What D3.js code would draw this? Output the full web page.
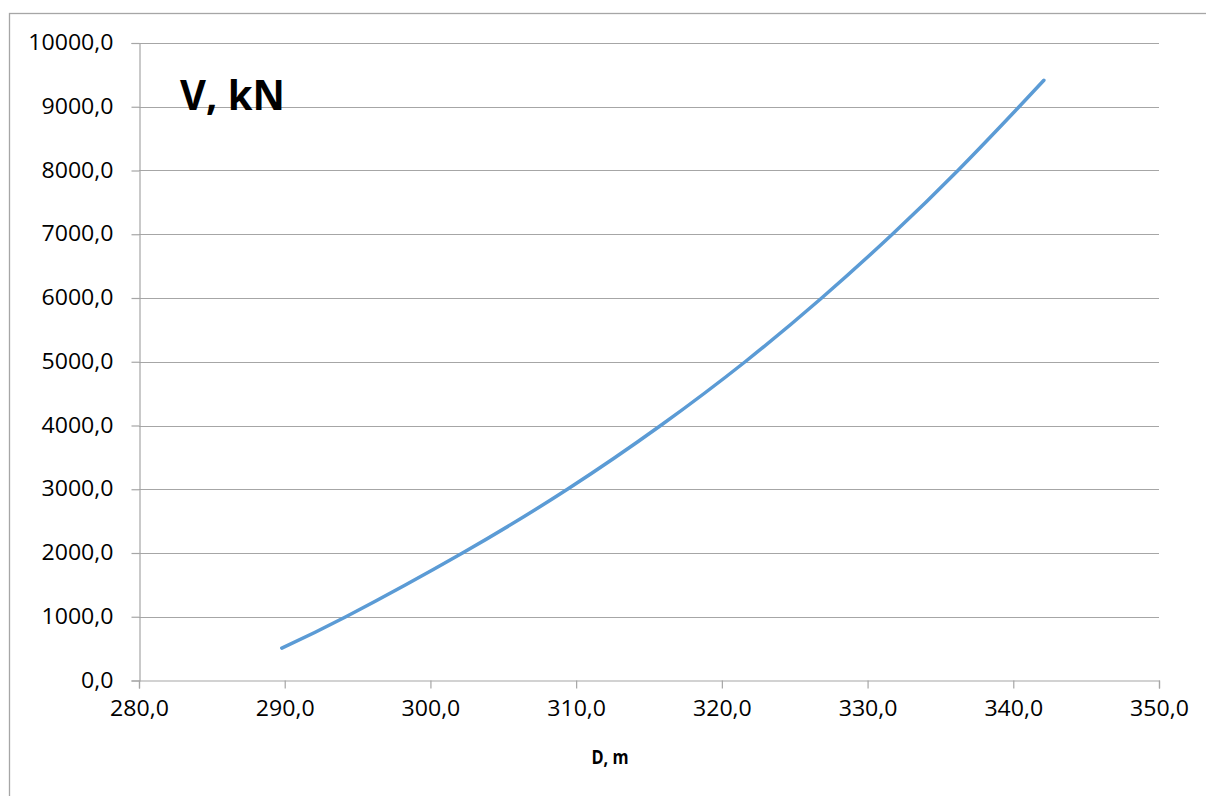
<!DOCTYPE html>
<html>
<head>
<meta charset="utf-8">
<script src="https://cdn.jsdelivr.net/npm/d3@7"></script>
<style>
  html, body { margin: 0; padding: 0; background: #fff; }
  svg text { font-family: "Open Sans", "Noto Sans", sans-serif; fill: #000; }
</style>
</head>
<body>
<svg id="chart" width="1206" height="796"></svg>
<script>
// Data
const D = [289.8, 294.2, 302.2, 309.4, 315.8, 321.6, 326.85, 331.7, 336.2, 340.4, 342.1];
const V = [508, 1000, 2000, 3000, 4000, 5000, 6000, 7000, 8000, 9000, 9415];
const xTicks = [280, 290, 300, 310, 320, 330, 340, 350];
const yTicks = [0, 1000, 2000, 3000, 4000, 5000, 6000, 7000, 8000, 9000, 10000];
const yTitle = "V, kN";
const xTitle = "D, m";

const svg = d3.select("#chart");
const fmt = v => d3.format(".1f")(v).replace(".", ",");
const stretch = 1.1;

// outer frame
svg.append("rect").attr("x", 9.5).attr("y", 13.5).attr("width", 1400).attr("height", 1000)
  .attr("fill", "none").attr("stroke", "#a6a6a6").attr("stroke-width", 1.3);

const x = d3.scaleLinear().domain([280, 350]).range([139, 1159]);
const y = d3.scaleLinear().domain([0, 10000]).range([680.5, 43]);

// gridlines
svg.append("g").selectAll("line").data(yTicks.filter(d => d > 0)).join("line")
  .attr("x1", x(280)).attr("x2", x(350))
  .attr("y1", d => Math.round(y(d)) + 0.5).attr("y2", d => Math.round(y(d)) + 0.5)
  .attr("stroke", "#a6a6a6").attr("stroke-width", 1.2);

// y axis
const yAxis = d3.axisLeft(y).tickValues(yTicks).tickFormat(fmt).tickSize(8).tickPadding(0);
const gy = svg.append("g").attr("transform", `translate(${x(280) + 0.5},0)`).call(yAxis);
gy.select(".domain").attr("stroke", "#a6a6a6").attr("stroke-width", 1.2);
gy.selectAll(".tick line").attr("stroke", "#a6a6a6").attr("stroke-width", 1.2);
gy.selectAll("text").style("font-size", "21px")
  .attr("x", -26 / stretch).attr("transform", `scale(${stretch},1)`);

// x axis
const xAxis = d3.axisBottom(x).tickValues(xTicks).tickFormat(fmt).tickSize(8).tickPadding(13);
const gx = svg.append("g").attr("transform", `translate(0,${y(0)})`).call(xAxis);
gx.select(".domain").attr("stroke", "#a6a6a6").attr("stroke-width", 1.2);
gx.selectAll(".tick line").attr("stroke", "#a6a6a6").attr("stroke-width", 1.2);
gx.selectAll("text").style("font-size", "21px").attr("transform", `scale(${stretch},1)`);

// line
const line = d3.line().x((d, i) => x(D[i])).y((d, i) => y(V[i])).curve(d3.curveNatural);
svg.append("path").datum(V).attr("d", line)
  .attr("fill", "none").attr("stroke", "#5b9bd5").attr("stroke-width", 3.5).attr("stroke-linecap", "round");

// titles
svg.append("text").attr("x", 180 / 0.95).attr("y", 110).attr("transform", "scale(0.95,1)").text(yTitle)
  .style("font-size", "42px").style("font-weight", "bold");
svg.append("text").attr("x", 610 / 0.82).attr("y", 764).attr("transform", "scale(0.82,1)")
  .attr("text-anchor", "middle").text(xTitle)
  .style("font-size", "20px").style("font-weight", "bold");
</script>
</body>
</html>
